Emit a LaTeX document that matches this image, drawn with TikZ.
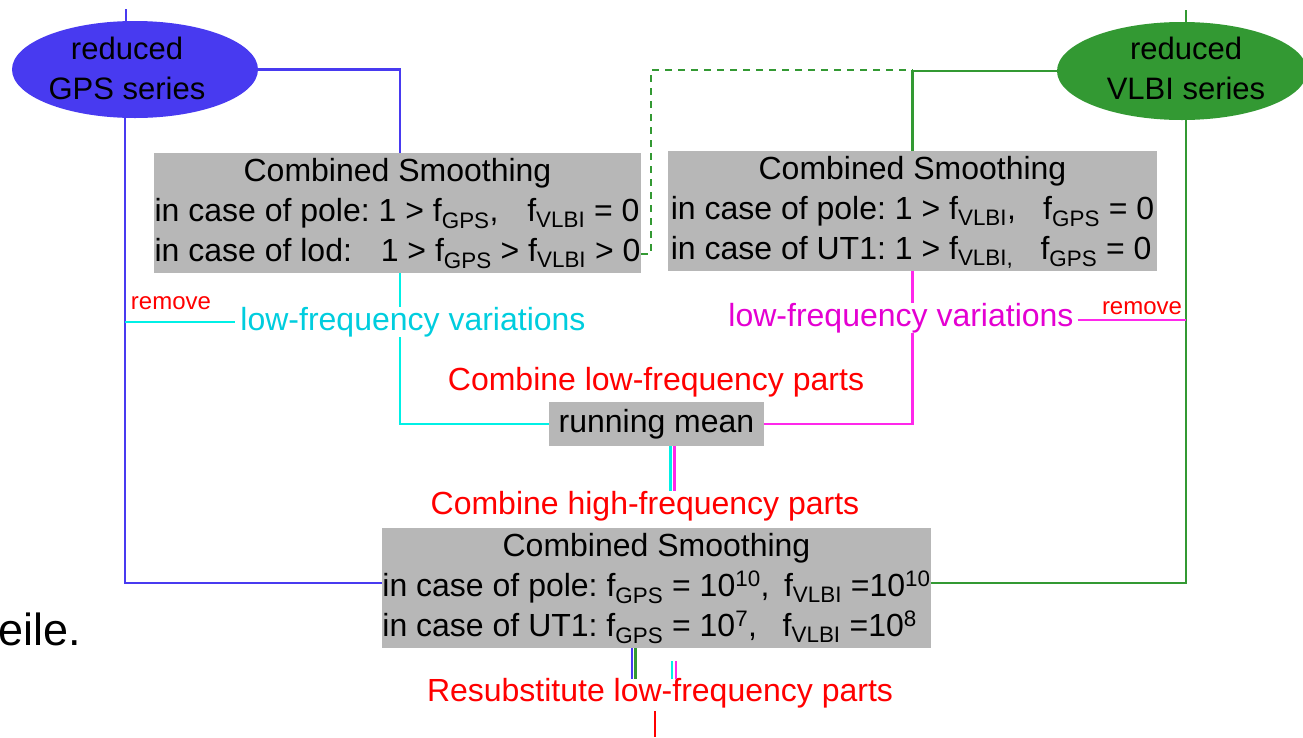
\documentclass[tikz,border=0pt]{standalone}
\usepackage{fontspec}
\setmainfont{Liberation Sans}
\usetikzlibrary{calc,shapes.geometric}
\definecolor{gpsblue}{RGB}{72,58,240}
\definecolor{vlbigreen}{RGB}{51,153,51}
\definecolor{boxgray}{RGB}{183,183,183}
\definecolor{cyanline}{RGB}{0,240,230}
\definecolor{cyantext}{RGB}{0,205,222}
\definecolor{magline}{RGB}{255,40,235}
\definecolor{magtext}{RGB}{228,0,210}
\frenchspacing
\begin{document}
\begin{tikzpicture}[x=1pt,y=-1pt,
  graybox/.style={fill=boxgray, inner sep=0pt, font=\fontsize{32}{40}\selectfont},
  lbl/.style={inner sep=0pt, font=\fontsize{32}{38}\selectfont},
  rmv/.style={inner sep=0pt, text=red, font=\fontsize{24}{26}\selectfont},
  ell/.style={ellipse, draw=none, inner sep=0pt},
  elltext/.style={inner sep=0pt, align=center, font=\fontsize{31}{40}\selectfont},
  ln/.style={line width=2.6pt},
  gpsln/.style={ln, draw=gpsblue},
  vlbiln/.style={ln, draw=vlbigreen},
  cyln/.style={ln, draw=cyanline},
  mgln/.style={ln, draw=magline},
  redln/.style={ln, draw=red}
]
\useasboundingbox (0,0) rectangle (1303,737);
% ellipses
\node[ell, fill=gpsblue, minimum width=246pt, minimum height=97pt] (gps) at (135,69.5) {};
\node[elltext] (gpstxt) at (127,68) {reduced\\GPS series};
\node[ell, fill=vlbigreen, minimum width=250pt, minimum height=98pt] (vlbi) at (1182,71) {};
\node[elltext] (vlbitxt) at (1186,68) {reduced\\VLBI series};
% boxes
\node[graybox, minimum width=487pt, minimum height=119pt] (cs1) at (397.5,213) {%
\begin{tabular}{@{}l@{}}\multicolumn{1}{@{}c@{}}{Combined Smoothing}\\
in case of pole: 1 > f\textsubscript{GPS},\hspace{0.9em}f\textsubscript{VLBI} = 0\\
in case of lod:\hspace{0.9em}1 > f\textsubscript{GPS} > f\textsubscript{VLBI} > 0
\end{tabular}};
\node[graybox, minimum width=489pt, minimum height=119pt] (cs2) at (912.5,211) {%
\begin{tabular}{@{}l@{}}\multicolumn{1}{@{}c@{}}{Combined Smoothing}\\
in case of pole: 1 > f\textsubscript{VLBI},\hspace{0.85em}f\textsubscript{GPS} = 0\\
in case of UT1: 1 > f\textsubscript{VLBI,}\hspace{0.85em}f\textsubscript{GPS} = 0
\end{tabular}};
\node[graybox, minimum width=215pt, minimum height=44pt] (rm) at (656.5,424) {running mean};
\node[graybox, minimum width=547pt, minimum height=118pt] (csb) at (656.5,588) {%
\begin{tabular}{@{}l@{}}\multicolumn{1}{@{}c@{}}{Combined Smoothing}\\
in case of pole: f\textsubscript{GPS} = 10\textsuperscript{10},\hspace{0.45em}f\textsubscript{VLBI} =10\textsuperscript{10}\\
in case of UT1: f\textsubscript{GPS} = 10\textsuperscript{7},\hspace{0.8em}f\textsubscript{VLBI} =10\textsuperscript{8}
\end{tabular}};
% labels
\node[lbl, text=cyantext] (lfv1) at (413,322) {low-frequency variations};
\node[lbl, text=magtext] (lfv2) at (901,318) {low-frequency variations};
\node[rmv] (rem1) at (171,303) {remove};
\node[rmv] (rem2) at (1142,308) {remove};
\node[lbl, text=red] (clf) at (656,382) {Combine low-frequency parts};
\node[lbl, text=red] (chf) at (645,506) {Combine high-frequency parts};
\node[lbl, text=red] (resub) at (660,693) {Resubstitute low-frequency parts};
\node[inner sep=0pt, anchor=base east, font=\fontsize{45}{50}\selectfont] (eile) at (81,645) {eile.};
% free-end coordinates
\coordinate (gpsin) at (126,9);
\coordinate (gpsinend) at (126,37);
\coordinate (vlbiin) at (1186,10);
\coordinate (vlbiinend) at (1186,36);
\coordinate (dashx) at (651,70);
\coordinate (lodend) at ([yshift=-41pt]cs1.east);
\coordinate (redstart) at (655,711);
\coordinate (redend) at (655,737);
\coordinate (gpsdown) at ([xshift=-10pt]gps.south);
\coordinate (vlbidown) at ([xshift=4pt]vlbi.south);
\coordinate (mgrem) at ([xshift=4pt,yshift=-2pt]lfv2.east);
% blue
\draw[gpsln] (gps.east) -| ([xshift=2.5pt]cs1.north);
\draw[gpsln] (gpsdown) |- ([yshift=5pt]csb.west);
\draw[gpsln] (gpsin) -- (gpsinend);
\draw[gpsln] ([xshift=-24.5pt]csb.south) -- ++(0,31);
% green
\draw[vlbiln] (vlbi.west) -| (cs2.north);
\draw[vlbiln] (vlbidown) |- ([yshift=5pt]csb.east);
\draw[vlbiln] (vlbiin) -- (vlbiinend);
\draw[vlbiln, dash pattern=on 7pt off 6pt] (lodend) -- (dashx |- lodend) -- (dashx) -- (cs2.north |- dashx);
\draw[vlbiln] ([xshift=-21pt]csb.south) -- ++(0,31);
% cyan
\draw[cyln] ([xshift=2.5pt]cs1.south) -- ([xshift=2.5pt]cs1.south |- lfv1.north);
\draw[cyln] ([xshift=2.5pt]cs1.south |- lfv1.south) |- (rm.west);
\draw[cyln] (gpsdown |- lfv1.west) -- ([xshift=-5pt]lfv1.west);
\draw[cyln] ([xshift=14pt]rm.south) -- ([xshift=14pt]rm.south |- chf.north);
\draw[cyln] ([xshift=15.5pt,yshift=-13pt]csb.south) -- ++(0,18);
% magenta
\draw[mgln] (cs2.south) -- (cs2.south |- lfv2.north);
\draw[mgln] (cs2.south |- lfv2.south) |- (rm.east);
\draw[mgln] (mgrem) -- (vlbidown |- mgrem);
\draw[mgln] ([xshift=18pt]rm.south) -- ([xshift=18pt]rm.south |- chf.north);
\draw[mgln] ([xshift=19.5pt,yshift=-13pt]csb.south) -- ++(0,18);
% red
\draw[redln] (redstart) -- (redend);
\end{tikzpicture}
\end{document}
